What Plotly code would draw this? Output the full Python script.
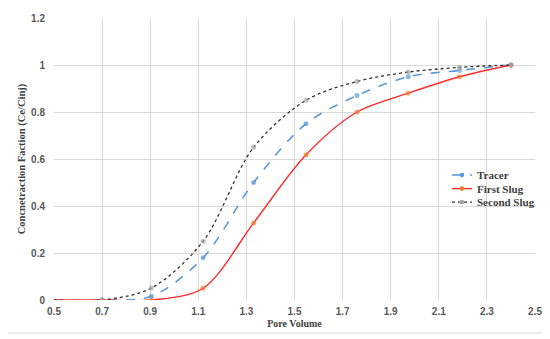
import plotly.graph_objects as go

pore_volume = [0.5, 0.7, 0.905, 1.12, 1.33, 1.548, 1.76, 1.973, 2.186, 2.40]
tracer = [0.0, 0.0, 0.016, 0.18, 0.50, 0.75, 0.87, 0.95, 0.977, 1.0]
first_slug = [0.0, 0.0, 0.0, 0.05, 0.328, 0.618, 0.80, 0.88, 0.95, 1.0]
second_slug = [0.0, 0.0, 0.051, 0.25, 0.65, 0.85, 0.93, 0.97, 0.99, 1.0]

series_names = ["Tracer", "First Slug", "Second Slug"]

x_ticks = [0.5, 0.7, 0.9, 1.1, 1.3, 1.5, 1.7, 1.9, 2.1, 2.3, 2.5]
x_tick_labels = ["0.5", "0.7", "0.9", "1.1", "1.3", "1.5", "1.7", "1.9", "2.1", "2.3", "2.5"]
y_ticks = [0, 0.2, 0.4, 0.6, 0.8, 1.0, 1.2]
y_tick_labels = ["0", "0.2", "0.4", "0.6", "0.8", "1", "1.2"]

line_colors = ["#5B9BD5", "#FF2A2A", "#333333"]
marker_colors = ["#5B9BD5", "#ED7D31", "#A5A5A5"]
dashes = ["dash", "solid", "dot"]
widths = [1.6, 1.4, 1.3]

# markers shown from second point onward (first point is line start)
def marker_sizes(n):
    return [0] + [5] * (n - 1)

fig = go.Figure()
for name, ys, lc, mc, d, w in zip(series_names, [tracer, first_slug, second_slug],
                                  line_colors, marker_colors, dashes, widths):
    fig.add_trace(go.Scatter(
        x=pore_volume, y=ys, name=name, mode="lines+markers", showlegend=False,
        line=dict(color=lc, width=w, dash=d, shape="spline", smoothing=0.9),
        marker=dict(color=mc, size=marker_sizes(len(pore_volume)), symbol="circle", line=dict(width=0)),
    ))

serif = "Liberation Serif, Times New Roman, serif"
tick_font = dict(family="Liberation Sans, Arial, sans-serif", size=10, color="#595959", weight="bold")

# compact legend built from shapes + annotations (paper coords of plot area)
shapes = [dict(
    type="rect", xref="paper", yref="paper",
    x0=-0.0977, x1=1.0187, y0=-0.117, y1=1.0426,
    line=dict(color="#D9D9D9", width=1), fillcolor="rgba(0,0,0,0)", layer="below",
)]
annotations = []
leg_y = [0.443, 0.395, 0.347]
for name, lc, mc, d, w, yy in zip(series_names, line_colors, marker_colors, dashes, widths, leg_y):
    shapes.append(dict(type="line", xref="paper", yref="paper",
                       x0=0.8274, x1=0.869, y0=yy, y1=yy,
                       line=dict(color=lc, width=w, dash=d)))
    shapes.append(dict(type="circle", xref="paper", yref="paper",
                       xsizemode="pixel", ysizemode="pixel", xanchor=0.848, yanchor=yy,
                       x0=-2.3, x1=2.3, y0=-2.3, y1=2.3,
                       fillcolor=mc, line=dict(width=0)))
    annotations.append(dict(xref="paper", yref="paper", x=0.8753, y=yy, text=name,
                            showarrow=False, xanchor="left", yanchor="middle",
                            font=dict(family=serif, size=11, color="#404040", weight="bold")))

# page body has an 8px margin, so offsets are compensated in the figure margins
fig.update_layout(
    width=550, height=339,
    margin=dict(l=46, r=23, t=10, b=47, autoexpand=False),
    paper_bgcolor="white", plot_bgcolor="white",
    showlegend=False,
    xaxis=dict(
        range=[0.5, 2.5], tickvals=x_ticks, ticktext=x_tick_labels,
        showgrid=True, gridcolor="#D9D9D9", gridwidth=1,
        zeroline=False, showline=False, ticks="", automargin=False,
        tickfont=tick_font, ticklabelstandoff=4,
        title=dict(text="Pore Volume", font=dict(family=serif, size=10, color="#404040", weight="bold"), standoff=3),
    ),
    yaxis=dict(
        range=[0, 1.2], tickvals=y_ticks, ticktext=y_tick_labels,
        showgrid=True, gridcolor="#D9D9D9", gridwidth=1,
        zeroline=False, showline=False, ticks="", automargin=False,
        tickfont=tick_font, ticklabelstandoff=8,
        title=dict(text="Concnetraction Faction (Ce/Cinj)", font=dict(family=serif, size=10.5, color="#404040", weight="bold"), standoff=3),
    ),
    shapes=shapes,
    annotations=annotations,
)

fig.write_html("out.html")
